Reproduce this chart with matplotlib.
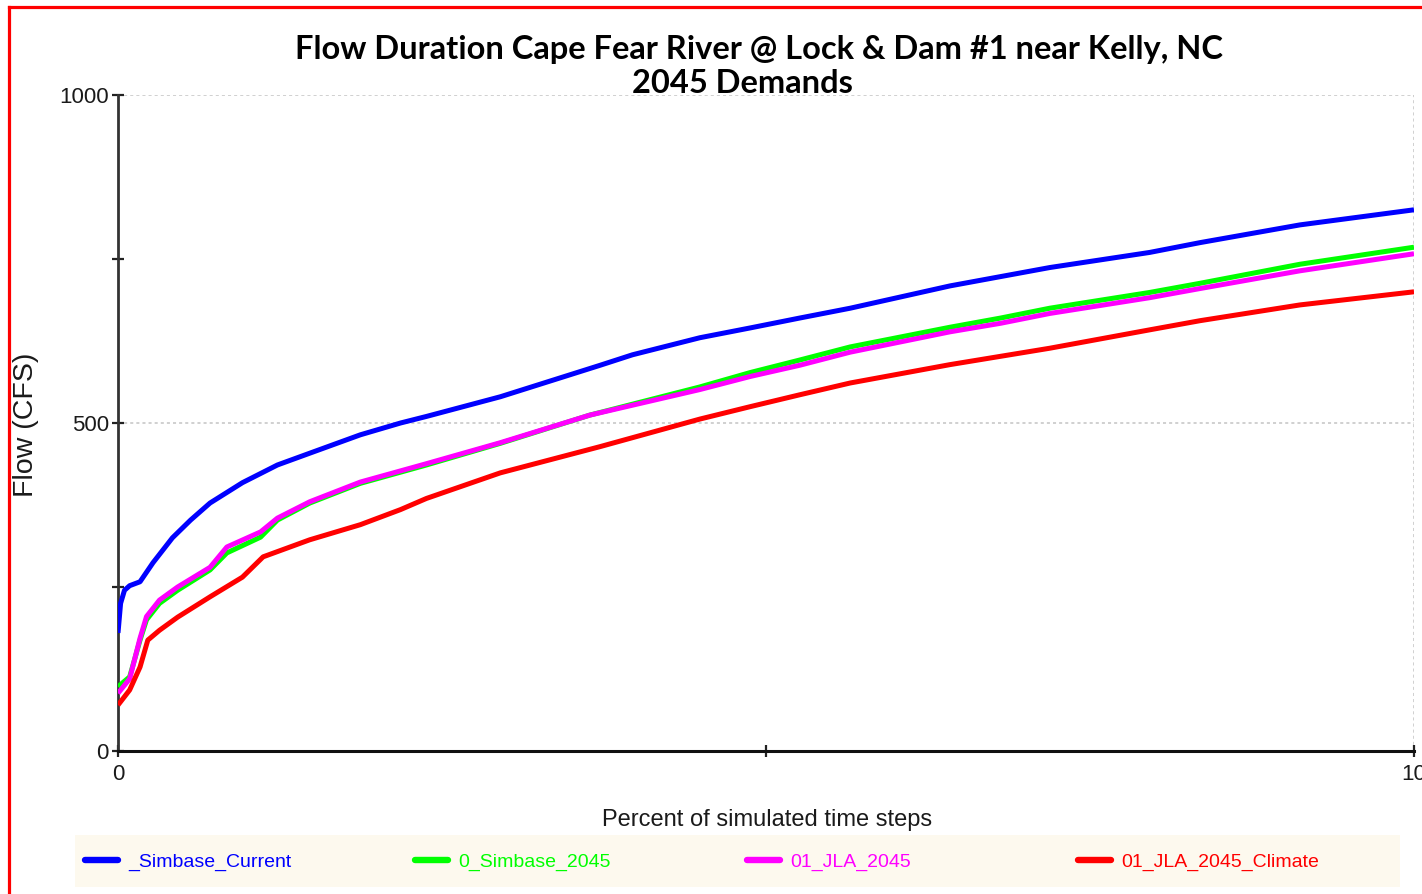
import matplotlib
matplotlib.use("Agg")
import matplotlib.pyplot as plt
from matplotlib.lines import Line2D
from matplotlib.patches import Rectangle

# ---------------- data ----------------
title_line1 = "Flow Duration Cape Fear River @ Lock & Dam #1 near Kelly, NC"
title_line2 = "2045 Demands"
x_label = "Percent of simulated time steps"
y_label = "Flow (CFS)"

series_names = ["_Simbase_Current", "0_Simbase_2045", "01_JLA_2045", "01_JLA_2045_Climate"]
series_colors = ["#0000ff", "#00ff00", "#ff00ff", "#ff0000"]

pct_current = [0, 0.02, 0.05, 0.09, 0.17, 0.27, 0.42, 0.56, 0.71, 0.96, 1.23, 1.48, 1.87,
               2.18, 2.38, 2.95, 3.72, 3.97, 4.49, 4.88, 5.26, 5.65, 6.42, 7.19, 7.96,
               8.35, 9.12, 10.0]
flow_current = [180, 225, 245, 252, 258, 287, 325, 352, 378, 409, 436, 454, 482,
                500, 510, 540, 588, 604, 630, 645, 660, 675, 709, 737, 760,
                775, 802, 825]

pct_2045 = [0, 0.09, 0.17, 0.22, 0.32, 0.46, 0.71, 0.84, 1.10, 1.23, 1.48, 1.87, 2.38,
            2.95, 3.64, 4.49, 4.88, 5.26, 5.65, 6.42, 6.81, 7.19, 7.96, 8.35, 9.12, 10.0]
flow_simbase_2045 = [98, 113, 169, 200, 225, 245, 276, 302, 326, 352, 378, 408, 436,
                     469, 512, 555, 577, 596, 616, 646, 660, 675, 699, 713, 742, 768]
flow_jla_2045 = [88, 110, 172, 205, 230, 250, 280, 311, 334, 355, 380, 410, 438,
                 470, 512, 551, 571, 588, 608, 639, 652, 667, 691, 705, 732, 758]

pct_climate = [0, 0.09, 0.17, 0.23, 0.32, 0.46, 0.71, 0.96, 1.12, 1.48, 1.87, 2.18, 2.38,
               2.95, 3.72, 4.49, 4.88, 5.26, 5.65, 6.42, 7.19, 7.96, 8.35, 9.12, 10.0]
flow_climate = [70, 93, 128, 169, 184, 204, 235, 265, 296, 322, 345, 368, 385,
                424, 464, 506, 525, 543, 561, 589, 614, 642, 656, 680, 700]

x_major = [0, 10]
x_minor = [5]
y_major = [0, 500, 1000]
y_minor = [250, 750]

# ---------------- figure ----------------
W, H = 1422, 894
fig = plt.figure(figsize=(W / 100, H / 100), dpi=100)
fig.patch.set_facecolor("white")

regular = ["Liberation Sans", "DejaVu Sans"]
titlef = ["Lato", "Open Sans", "DejaVu Sans"]

ax = fig.add_axes([118 / W, 1 - 751 / H, 1296 / W, 656 / H])
ax.set_xlim(0, 10)
ax.set_ylim(0, 1000)

series = [(pct_current, flow_current), (pct_2045, flow_simbase_2045),
          (pct_2045, flow_jla_2045), (pct_climate, flow_climate)]
lines = []
for (xs, ys), name, col in zip(series, series_names, series_colors):
    ln, = ax.plot(xs, ys, color=col, lw=3.6, solid_capstyle="butt",
                  solid_joinstyle="round", zorder=3)
    lines.append(ln)

for s in ["top", "right"]:
    ax.spines[s].set_visible(False)
ax.spines["left"].set_color("#333333")
ax.spines["left"].set_linewidth(2.0)
ax.spines["bottom"].set_color("#111111")
ax.spines["bottom"].set_linewidth(2.2)

ax.set_xticks(x_major)
ax.set_xticks(x_minor, minor=True)
ax.set_yticks(y_major)
ax.set_yticks(y_minor, minor=True)
ax.set_xticklabels([str(v) for v in x_major])
ax.set_yticklabels([str(v) for v in y_major])
ax.tick_params(which="both", direction="inout", length=9, width=1.6, color="#222222")
ax.tick_params(axis="x", which="major", pad=5)
ax.tick_params(axis="y", which="major", pad=2)
for lab in ax.get_xticklabels() + ax.get_yticklabels():
    lab.set_fontfamily(regular)
    lab.set_fontsize(16)
    lab.set_color("#1a1a1a")

ax.grid(True, which="major", color="#c4c4c4", linestyle=(0, (2, 2)), lw=1.1, zorder=0)
ax.set_axisbelow(True)

# titles and axis labels
fig.text(759 / W, 1 - 59 / H, title_line1, ha="center", va="baseline",
         fontsize=23.5, fontweight="bold", family=titlef, color="black")
fig.text(742 / W, 1 - 93 / H, title_line2, ha="center", va="baseline",
         fontsize=23.5, fontweight="bold", family=titlef, color="black")
fig.text(767 / W, 1 - 820 / H, x_label, ha="center", va="center",
         fontsize=17, family=regular, color="#1a1a1a")
fig.text(26 / W, 1 - 425 / H, y_label, ha="center", va="center", rotation=90,
         fontsize=20.5, family=regular, color="#1a1a1a")

# legend background
fig.add_artist(Rectangle((75 / W, 1 - 887 / H), 1325 / W, 52 / H, transform=fig.transFigure,
                         facecolor="#fdf9ee", edgecolor="none", zorder=0))

legend_x = [85, 415, 747, 1078]
for ln, name, lx in zip(lines, series_names, legend_x):
    proxy = Line2D([], [], color=ln.get_color(), lw=4.6, solid_capstyle="round")
    fig.legend(handles=[proxy], labels=[name], loc="center left",
               bbox_to_anchor=(lx / W, 1 - 862 / H), bbox_transform=fig.transFigure,
               frameon=False, borderpad=0, borderaxespad=0,
               handlelength=1.7, handletextpad=0.5,
               prop={"family": regular, "size": 14}, labelcolor="linecolor")

# red border (left and top)
fig.add_artist(Line2D([9 / W, 9 / W], [0, 1 - 6.5 / H], transform=fig.transFigure,
                      color="#ff0000", lw=2.3))
fig.add_artist(Line2D([9 / W, 1], [1 - 6.5 / H, 1 - 6.5 / H], transform=fig.transFigure,
                      color="#ff0000", lw=2.3))

fig.savefig("out.png", dpi=100)
